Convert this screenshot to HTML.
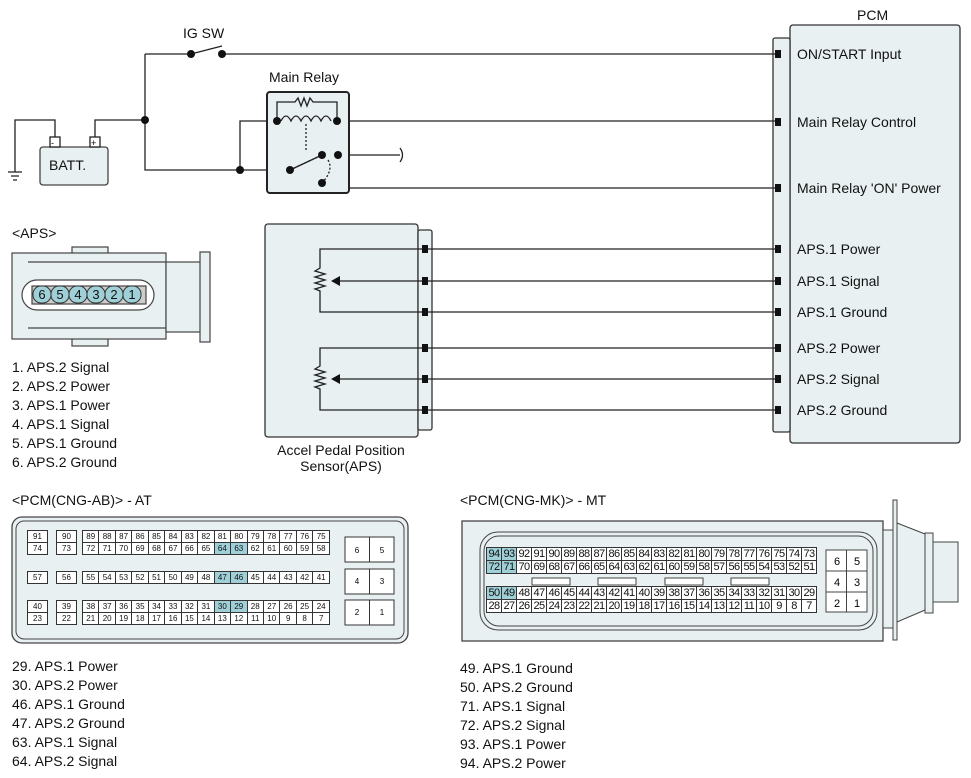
<!DOCTYPE html>
<html><head><meta charset="utf-8"><style>
body{margin:0;width:971px;height:778px;background:#fff;position:relative;overflow:hidden;font-family:"Liberation Sans",Arial,sans-serif;color:#111}
.t{position:absolute;font-size:14px;white-space:nowrap}
table{position:absolute;border-collapse:collapse;table-layout:fixed}
td{border:1px solid #333;text-align:center;padding:0;background:#fff}
.at td{font-size:8px;height:11px;width:15px}
.mk td{font-size:11px;height:12px;width:14px;letter-spacing:-0.6px}
td.h{background:#9fd0d8}
</style></head><body>
<svg width="971" height="778" style="position:absolute;left:0;top:0" font-family="Liberation Sans,Arial,sans-serif">
<g stroke="#222" stroke-width="1.3" fill="none">
<!-- PCM -->
<rect x="790" y="25" width="170" height="418" rx="3" fill="#e8f0f2" stroke="#333"/>
<rect x="773" y="38" width="17" height="394" rx="2" fill="#e8f0f2" stroke="#333"/>
<!-- top wires -->
<path d="M145 54H191M222 54H778M145 54V170H290M95 137V120H145M55 137V120H15V172M240 170V121H277M337 121H778M338 155H400M338 155V188H778"/>
<path d="M191 54L222 46"/>
<path d="M400 148q5 7 0 14"/>
<path d="M8 172h14M11 176h8M13 180h4"/>
<!-- battery -->
<rect x="40" y="147" width="68" height="38" rx="3" fill="#e8f0f2" stroke="#444"/>
<rect x="50" y="137" width="10" height="10" fill="#fff"/>
<rect x="90" y="137" width="10" height="10" fill="#fff"/>
<!-- relay -->
<rect x="267" y="92" width="82" height="101" rx="3" fill="#e8f0f2" stroke="#222" stroke-width="2"/>
<path d="M277 121V102H295l3-4 3 8 3-8 3 8 3-8 3 4H337V121"/>
<path d="M281 121q5-10 10 0q5-10 10 0q5-10 10 0q5-10 10 0q5-10 10 0"/>
<path d="M306 124V152M290 170L322 155M328 160q6 10 -6 23" stroke-dasharray="2 2"/>
<path d="M290 170L322 155"/>
<!-- APS sensor -->
<rect x="265" y="224" width="153" height="213" rx="3" fill="#e8f0f2" stroke="#333"/>
<rect x="418" y="230" width="14" height="200" rx="2" fill="#e8f0f2" stroke="#333"/>
<path d="M428 249H778M428 281H778M428 312H778M428 348H778M428 379H778M428 410H778"/>
<path d="M425 249H320V268l-5 3 10 3-10 3 10 3-10 3 10 3-10 3 5 2V312H425M340 281H425"/>
<path d="M425 348H320V366l-5 3 10 3-10 3 10 3-10 3 10 3-10 3 5 2V410H425M340 379H425"/>
</g>
<g fill="#111">
<circle cx="145" cy="120" r="4"/><circle cx="191" cy="54" r="4"/><circle cx="222" cy="54" r="4"/><circle cx="145" cy="54" r="0"/>
<circle cx="240" cy="170" r="4"/><circle cx="277" cy="121" r="4"/><circle cx="337" cy="121" r="4"/>
<circle cx="290" cy="170" r="4"/><circle cx="322" cy="155" r="4"/><circle cx="338" cy="155" r="4"/><circle cx="322" cy="183" r="4"/>
<path d="M331 281l9-5v10zM331 379l9-5v10z"/>
<rect x="775" y="50" width="6" height="8"/><rect x="775" y="118" width="6" height="8"/><rect x="775" y="184" width="6" height="8"/>
<rect x="775" y="245" width="6" height="8"/><rect x="775" y="277" width="6" height="8"/><rect x="775" y="308" width="6" height="8"/>
<rect x="775" y="344" width="6" height="8"/><rect x="775" y="375" width="6" height="8"/><rect x="775" y="406" width="6" height="8"/>
<rect x="422" y="245" width="6" height="8"/><rect x="422" y="277" width="6" height="8"/><rect x="422" y="308" width="6" height="8"/>
<rect x="422" y="344" width="6" height="8"/><rect x="422" y="375" width="6" height="8"/><rect x="422" y="406" width="6" height="8"/>
</g>
<text x="51" y="146" font-size="9">-</text><text x="91" y="146" font-size="9">+</text>
<!-- APS connector -->
<g stroke="#444" stroke-width="1.2" fill="#e8f0f2">
<rect x="72" y="247" width="36" height="8"/>
<rect x="72" y="336" width="36" height="10"/>
<rect x="12" y="253" width="154" height="86"/>
<rect x="166" y="262" width="35" height="70"/>
<rect x="200" y="252" width="10" height="90"/>
<path d="M28 262H166M28 328H166" fill="none"/>
<rect x="22" y="280" width="132" height="30" rx="15" fill="#fff"/>
<rect x="32" y="286" width="114" height="18" fill="#ccc"/>
</g>
<g fill="#9fd0d8" stroke="#333">
<rect x="33" y="286" width="18" height="17" rx="8"/><rect x="51" y="286" width="18" height="17" rx="8"/><rect x="69" y="286" width="18" height="17" rx="8"/>
<rect x="87" y="286" width="18" height="17" rx="8"/><rect x="105" y="286" width="18" height="17" rx="8"/><rect x="123" y="286" width="18" height="17" rx="8"/>
</g>
<g font-size="13" text-anchor="middle" fill="#111">
<text x="42" y="299">6</text><text x="60" y="299">5</text><text x="78" y="299">4</text><text x="96" y="299">3</text><text x="114" y="299">2</text><text x="132" y="299">1</text>
</g>
<!-- AT connector -->
<rect x="12" y="517" width="396" height="126" rx="10" fill="#e8f0f2" stroke="#444" stroke-width="1.3"/>
<rect x="16" y="521" width="388" height="118" rx="8" fill="none" stroke="#444"/>
<g fill="#fff" stroke="#333">
<rect x="345" y="537" width="49" height="25"/><rect x="345" y="569" width="49" height="25"/><rect x="345" y="600" width="49" height="25"/>
<path d="M369.5 537v25M369.5 569v25M369.5 600v25"/>
</g>
<g font-size="8" text-anchor="middle"><text x="357" y="553">6</text><text x="382" y="553">5</text><text x="357" y="584">4</text><text x="382" y="584">3</text><text x="357" y="615">2</text><text x="382" y="615">1</text></g>
<!-- MK connector -->
<rect x="462" y="521" width="421" height="120" fill="#e8f0f2" stroke="#444" stroke-width="1.3"/>
<rect x="480" y="532" width="397" height="98" rx="18" fill="none" stroke="#444"/>
<rect x="484" y="536" width="389" height="90" rx="15" fill="none" stroke="#444"/>
<g stroke="#444" fill="#e8f0f2">
<path d="M883 530L893 530V628H883Z"/>
<rect x="893" y="500" width="4" height="140"/>
<path d="M897 523L925 534V610L897 622Z"/>
<rect x="925" y="533" width="8" height="80"/>
<rect x="933" y="542" width="25" height="60"/>
<rect x="826" y="550" width="41" height="62" fill="#fff"/>
<path d="M846.5 550V612M826 571H867M826 592H867" fill="none"/>
<rect x="532" y="578" width="38" height="7" fill="#fff"/><rect x="598" y="578" width="38" height="7" fill="#fff"/>
<rect x="665" y="578" width="38" height="7" fill="#fff"/><rect x="731" y="578" width="38" height="7" fill="#fff"/>
</g>
<g font-size="11" text-anchor="middle"><text x="837" y="565">6</text><text x="857" y="565">5</text><text x="837" y="586">4</text><text x="857" y="586">3</text><text x="837" y="607">2</text><text x="857" y="607">1</text></g>
</svg>

<div class="t" style="left:857px;top:7px">PCM</div>
<div class="t" style="left:183px;top:25px">IG SW</div>
<div class="t" style="left:269px;top:69px">Main Relay</div>
<div class="t" style="left:49px;top:157px">BATT.</div>
<div class="t" style="left:797px;top:46px">ON/START Input</div>
<div class="t" style="left:797px;top:114px">Main Relay Control</div>
<div class="t" style="left:797px;top:180px">Main Relay 'ON' Power</div>
<div class="t" style="left:797px;top:241px">APS.1 Power</div>
<div class="t" style="left:797px;top:273px">APS.1 Signal</div>
<div class="t" style="left:797px;top:304px">APS.1 Ground</div>
<div class="t" style="left:797px;top:340px">APS.2 Power</div>
<div class="t" style="left:797px;top:371px">APS.2 Signal</div>
<div class="t" style="left:797px;top:402px">APS.2 Ground</div>
<div class="t" style="left:12px;top:225px">&lt;APS&gt;</div>
<div class="t" style="left:12px;top:358px;line-height:19px">1. APS.2 Signal<br>2. APS.2 Power<br>3. APS.1 Power<br>4. APS.1 Signal<br>5. APS.1 Ground<br>6. APS.2 Ground</div>
<div class="t" style="left:265px;top:442px;width:152px;text-align:center;line-height:16px">Accel Pedal Position<br>Sensor(APS)</div>
<div class="t" style="left:12px;top:492px">&lt;PCM(CNG-AB)&gt; - AT</div>
<div class="t" style="left:460px;top:492px">&lt;PCM(CNG-MK)&gt; - MT</div>
<div class="t" style="left:12px;top:657px;line-height:19px">29. APS.1 Power<br>30. APS.2 Power<br>46. APS.1 Ground<br>47. APS.2 Ground<br>63. APS.1 Signal<br>64. APS.2 Signal</div>
<div class="t" style="left:460px;top:659px;line-height:19px">49. APS.1 Ground<br>50. APS.2 Ground<br>71. APS.1 Signal<br>72. APS.2 Signal<br>93. APS.1 Power<br>94. APS.2 Power</div>

<table class="at" style="left:27px;top:530px;width:21px"><tr><td>91</td></tr><tr><td>74</td></tr></table>
<table class="at" style="left:56px;top:530px;width:21px"><tr><td>90</td></tr><tr><td>73</td></tr></table>
<table class="at" style="left:82px;top:530px;width:248px"><tr><td>89</td><td>88</td><td>87</td><td>86</td><td>85</td><td>84</td><td>83</td><td>82</td><td>81</td><td>80</td><td>79</td><td>78</td><td>77</td><td>76</td><td>75</td></tr><tr><td>72</td><td>71</td><td>70</td><td>69</td><td>68</td><td>67</td><td>66</td><td>65</td><td class="h">64</td><td class="h">63</td><td>62</td><td>61</td><td>60</td><td>59</td><td>58</td></tr></table>
<table class="at" style="left:27px;top:571px;width:21px"><tr><td>57</td></tr></table>
<table class="at" style="left:56px;top:571px;width:21px"><tr><td>56</td></tr></table>
<table class="at" style="left:82px;top:571px;width:248px"><tr><td>55</td><td>54</td><td>53</td><td>52</td><td>51</td><td>50</td><td>49</td><td>48</td><td class="h">47</td><td class="h">46</td><td>45</td><td>44</td><td>43</td><td>42</td><td>41</td></tr></table>
<table class="at" style="left:27px;top:600px;width:21px"><tr><td>40</td></tr><tr><td>23</td></tr></table>
<table class="at" style="left:56px;top:600px;width:21px"><tr><td>39</td></tr><tr><td>22</td></tr></table>
<table class="at" style="left:82px;top:600px;width:248px"><tr><td>38</td><td>37</td><td>36</td><td>35</td><td>34</td><td>33</td><td>32</td><td>31</td><td class="h">30</td><td class="h">29</td><td>28</td><td>27</td><td>26</td><td>25</td><td>24</td></tr><tr><td>21</td><td>20</td><td>19</td><td>18</td><td>17</td><td>16</td><td>15</td><td>14</td><td>13</td><td>12</td><td>11</td><td>10</td><td>9</td><td>8</td><td>7</td></tr></table>

<table class="mk" style="left:486px;top:547px;width:330px"><tr><td class="h">94</td><td class="h">93</td><td>92</td><td>91</td><td>90</td><td>89</td><td>88</td><td>87</td><td>86</td><td>85</td><td>84</td><td>83</td><td>82</td><td>81</td><td>80</td><td>79</td><td>78</td><td>77</td><td>76</td><td>75</td><td>74</td><td>73</td></tr><tr><td class="h">72</td><td class="h">71</td><td>70</td><td>69</td><td>68</td><td>67</td><td>66</td><td>65</td><td>64</td><td>63</td><td>62</td><td>61</td><td>60</td><td>59</td><td>58</td><td>57</td><td>56</td><td>55</td><td>54</td><td>53</td><td>52</td><td>51</td></tr></table>
<table class="mk" style="left:486px;top:586px;width:330px"><tr><td class="h">50</td><td class="h">49</td><td>48</td><td>47</td><td>46</td><td>45</td><td>44</td><td>43</td><td>42</td><td>41</td><td>40</td><td>39</td><td>38</td><td>37</td><td>36</td><td>35</td><td>34</td><td>33</td><td>32</td><td>31</td><td>30</td><td>29</td></tr><tr><td>28</td><td>27</td><td>26</td><td>25</td><td>24</td><td>23</td><td>22</td><td>21</td><td>20</td><td>19</td><td>18</td><td>17</td><td>16</td><td>15</td><td>14</td><td>13</td><td>12</td><td>11</td><td>10</td><td>9</td><td>8</td><td>7</td></tr></table>
</body></html>
